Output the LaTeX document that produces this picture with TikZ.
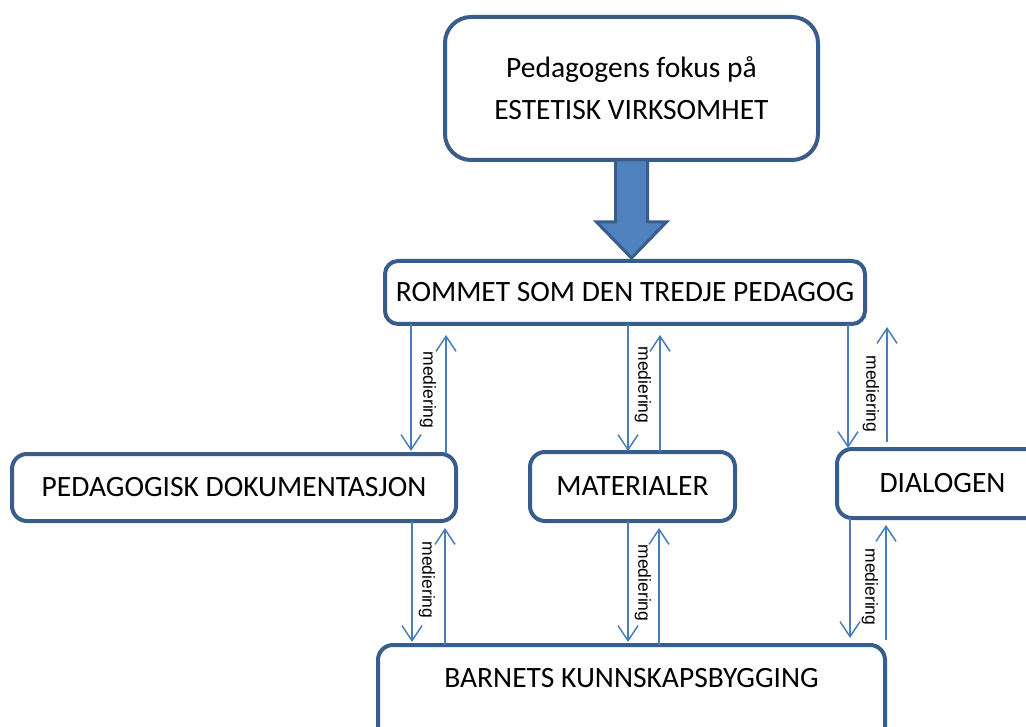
\documentclass[tikz,border=0pt]{standalone}
\usepackage{fontspec}
\setmainfont{Carlito}
\newfontfamily\arialfont{Liberation Sans}
\usetikzlibrary{arrows.meta,positioning}
\definecolor{Ramme}{HTML}{385D8A}
\definecolor{PilBlaa}{HTML}{4A7EBB}
\definecolor{PilFyll}{HTML}{4F81BD}
\tikzset{
  boks/.style={draw=Ramme,fill=white,line width=4pt,rounded corners=15pt,inner sep=0pt,outer sep=0pt,align=center,font=\fontsize{29.5}{42}\selectfont},
  medpil/.style={-{Straight Barb[length=15pt,width=20pt]},line width=1.5pt,color=PilBlaa},
  medtekst/.style={rotate=-90,inner sep=0pt,font=\arialfont\fontsize{17.5}{20}\selectfont},
  storpil/.style={draw=Ramme,fill=PilFyll,line width=3pt,line join=miter}
}

\begin{document}
\begin{tikzpicture}[x=1pt,y=-1pt]
  \useasboundingbox (0,0) rectangle (1026,727);
  \clip (0,0) rectangle (1026,727);
  \node[boks,rounded corners=26pt,minimum width=373pt,minimum height=143pt] (fokus) at (631.5,88.5) {Pedagogens fokus på\\ESTETISK VIRKSOMHET};
  \node[boks,rounded corners=13pt,minimum width=480pt,minimum height=63pt] (rommet) at (625,292.5) {ROMMET SOM DEN TREDJE PEDAGOG};
  \node[boks,minimum width=444pt,minimum height=67pt] (dokumentasjon) at (234,487.5) {PEDAGOGISK DOKUMENTASJON};
  \node[boks,minimum width=205pt,minimum height=69pt] (materialer) at (632.5,486.5) {MATERIALER};
  \node[boks,minimum width=211pt,minimum height=69pt] (dialogen) at (942.5,483.5) {DIALOGEN};
  \node[boks,anchor=north,minimum width=507pt,text height=20pt,text depth=80pt,inner ysep=22pt] (barnets) at (631.5,645) {BARNETS KUNNSKAPSBYGGING};
  % stor pil ned til rommet
  \coordinate (pilhals) at ([yshift=-62pt]fokus.south);
  \coordinate (piltupp) at (fokus.south |- rommet.north);
  \draw[storpil] ([xshift=-16pt]fokus.south) -- ([xshift=-16pt]pilhals) -- ([xshift=-35pt]pilhals) -- ([yshift=3pt]piltupp) -- ([xshift=35pt]pilhals) -- ([xshift=16pt]pilhals) -- ([xshift=16pt]fokus.south) -- cycle;
  % mediering, rommet - boksene
  \draw[medpil,shorten >=3pt] (411,0 |- rommet.south) -- (411,0 |- dokumentasjon.north);
  \draw[medpil,shorten >=11pt] (446,0 |- dokumentasjon.north) -- (446,0 |- rommet.south);
  \node[medtekst] (med1) at (428,390) {mediering};
  \draw[medpil,shorten >=1pt] (628,0 |- rommet.south) -- (628,0 |- materialer.north);
  \draw[medpil,shorten >=11pt] (660,0 |- materialer.north) -- (660,0 |- rommet.south);
  \node[medtekst] (med2) at (643,385) {mediering};
  \draw[medpil,shorten >=1pt] (848,0 |- rommet.south) -- (848,0 |- dialogen.north);
  \draw[medpil,shorten <=7pt,shorten >=3pt] (887,0 |- dialogen.north) -- (887,0 |- rommet.south);
  \node[medtekst] (med3) at (871,394) {mediering};
  % mediering, boksene - barnets
  \draw[medpil,shorten >=3pt] (412,0 |- dokumentasjon.south) -- (412,0 |- barnets.north);
  \draw[medpil,shorten >=7pt] (445,0 |- barnets.north) -- (445,0 |- dokumentasjon.south);
  \node[medtekst] (med4) at (427,580) {mediering};
  \draw[medpil,shorten >=3pt] (628,0 |- materialer.south) -- (628,0 |- barnets.north);
  \draw[medpil,shorten >=7pt] (659,0 |- barnets.north) -- (659,0 |- materialer.south);
  \node[medtekst] (med5) at (643,583) {mediering};
  \draw[medpil,shorten >=7pt] (850,0 |- dialogen.south) -- (850,0 |- barnets.north);
  \draw[medpil,shorten <=5pt,shorten >=7pt] (886,0 |- barnets.north) -- (886,0 |- dialogen.south);
  \node[medtekst] (med6) at (870,587) {mediering};
\end{tikzpicture}
\end{document}
